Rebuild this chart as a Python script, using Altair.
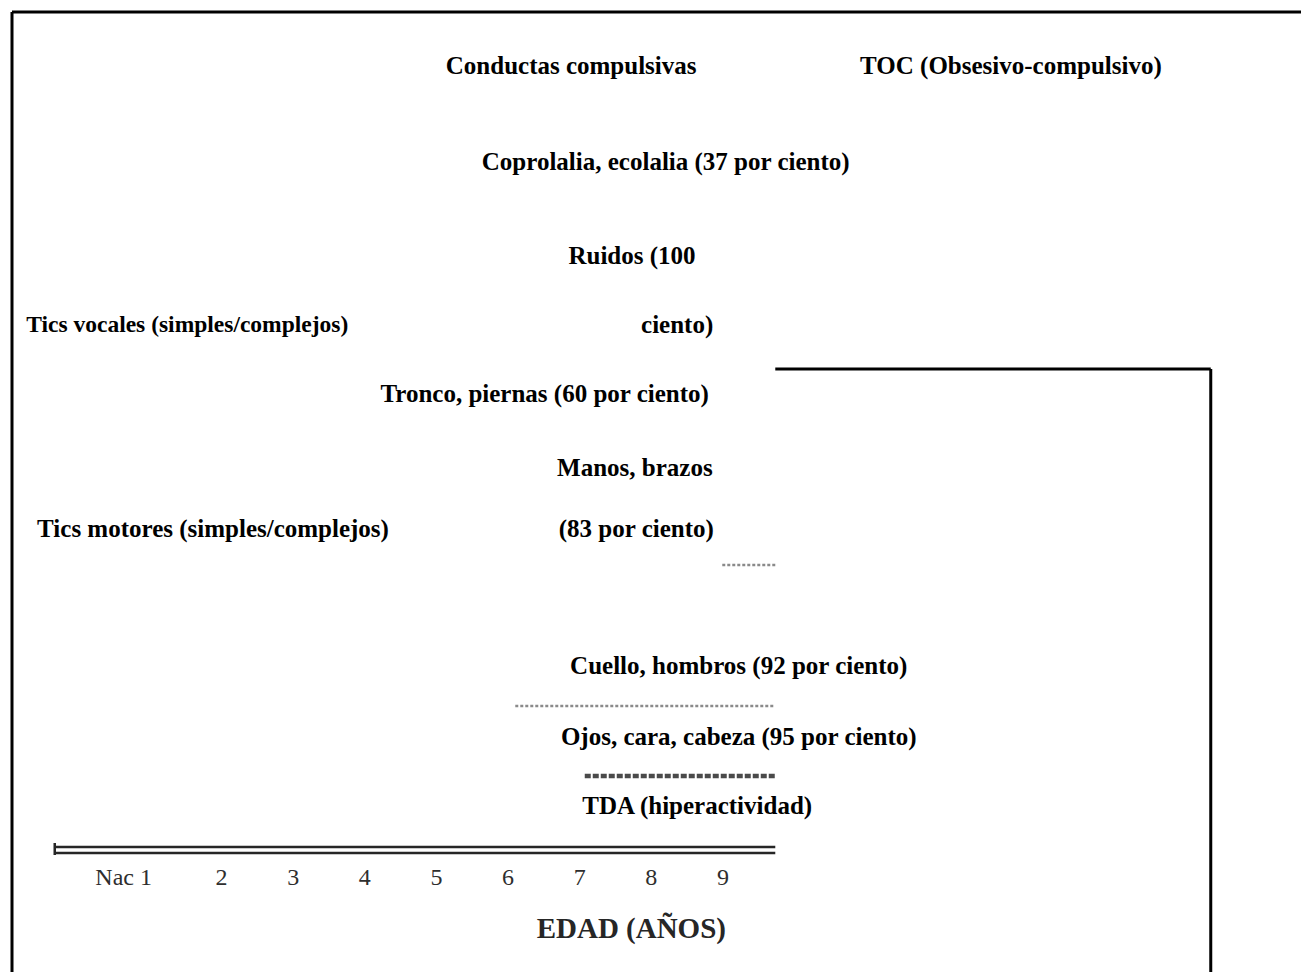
import altair as alt
import pandas as pd

# --- Etiquetas del diagrama: texto, edad (años) y nivel vertical (0 = arriba) ---
label_texts = [
    "Conductas compulsivas",
    "TOC (Obsesivo-compulsivo)",
    "Coprolalia, ecolalia (37 por ciento)",
    "Ruidos (100",
    "Tics vocales (simples/complejos)",
    "ciento)",
    "Tronco, piernas (60 por ciento)",
    "Manos, brazos",
    "Tics motores (simples/complejos)",
    "(83 por ciento)",
    "Cuello, hombros (92 por ciento)",
    "Ojos, cara, cabeza (95 por ciento)",
    "TDA (hiperactividad)",
]
label_ages = [6.88, 13.02, 8.20, 7.73, 1.52, 8.36, 6.51, 7.77, 1.88, 7.79, 9.22, 9.22, 8.64]
label_levels = [5.4, 5.4, 15.0, 24.4, 31.3, 31.3, 38.2, 45.6, 51.7, 51.7, 65.4, 72.5, 79.4]
condensed_label = "Tics vocales (simples/complejos)"

# --- Eje de edad ---
tick_ages = [1, 2, 3, 4, 5, 6, 7, 8, 9]
tick_labels = ["Nac 1", "2", "3", "4", "5", "6", "7", "8", "9"]
tick_level = 86.6
axis_title = "EDAD (AÑOS)"
axis_title_age = 7.72
axis_title_level = 91.7
axis_start_age = -0.33
axis_end_age = 9.73
axis_line_levels = [83.5, 84.1]
axis_corner_levels = [83.1, 84.3]

# --- Restos de barras de duración (escaneadas) ---
bar_names = ["Manos", "Cuello", "Ojos"]
bar_start_ages = [8.99, 6.10, 7.07]
bar_end_ages = [9.73, 9.73, 9.73]
bar_levels = [55.3, 69.4, 76.4]

# --- Recuadro interior ---
box_left_age = 9.73
box_right_age = 15.81
box_top_level = 35.7
box_bottom_level = 96.0

# --- Marco exterior (bordes superior e izquierdo) ---
x_domain = [-0.9267, 17.07]
y_domain = [0, 96]

xscale = alt.Scale(domain=x_domain, nice=False, zero=False)
yscale = alt.Scale(domain=y_domain, reverse=True, nice=False, zero=False)

labels_df = pd.DataFrame({"texto": label_texts, "edad": label_ages, "nivel": label_levels})
ticks_df = pd.DataFrame({"texto": tick_labels, "edad": tick_ages, "nivel": [tick_level] * len(tick_ages)})
title_df = pd.DataFrame({"texto": [axis_title], "edad": [axis_title_age], "nivel": [axis_title_level]})
axis_df = pd.DataFrame({"x0": [axis_start_age] * 2, "x1": [axis_end_age] * 2, "nivel": axis_line_levels})
corner_df = pd.DataFrame({"x0": [axis_start_age], "y0": [axis_corner_levels[0]], "y1": [axis_corner_levels[1]]})
bars_df = pd.DataFrame({"nombre": bar_names, "x0": bar_start_ages, "x1": bar_end_ages, "nivel": bar_levels})
hlines_df = pd.DataFrame({"x0": [box_left_age, x_domain[0]], "x1": [box_right_age, x_domain[1]],
                          "nivel": [box_top_level, y_domain[0]]})
vlines_df = pd.DataFrame({"x0": [box_right_age, x_domain[0]], "y0": [box_top_level, y_domain[0]],
                          "y1": [box_bottom_level, y_domain[1]]})

X = lambda f: alt.X(f, scale=xscale, axis=None)
Y = lambda f: alt.Y(f, scale=yscale, axis=None)

hlines = alt.Chart(hlines_df).mark_rule(color="black", strokeWidth=3).encode(
    x=X("x0:Q"), x2="x1:Q", y=Y("nivel:Q"),
)
vlines = alt.Chart(vlines_df).mark_rule(color="black", strokeWidth=3).encode(
    x=X("x0:Q"), y=Y("y0:Q"), y2="y1:Q",
)

axis_lines = alt.Chart(axis_df).mark_rule(color="#262626", strokeWidth=2.5).encode(
    x=X("x0:Q"), x2="x1:Q", y=Y("nivel:Q"),
)
axis_corner = alt.Chart(corner_df).mark_rule(color="#262626", strokeWidth=2.5).encode(
    x=X("x0:Q"), y=Y("y0:Q"), y2="y1:Q",
)

bar_light = alt.Chart(bars_df).transform_filter(alt.datum.nombre != "Ojos").mark_rule(
    color="#8a8a8a", strokeWidth=2.5, strokeDash=[3, 2]
).encode(x=X("x0:Q"), x2="x1:Q", y=Y("nivel:Q"))
bar_dark = alt.Chart(bars_df).transform_filter(alt.datum.nombre == "Ojos").mark_rule(
    color="#4a4a4a", strokeWidth=4.5, strokeDash=[6, 2]
).encode(x=X("x0:Q"), x2="x1:Q", y=Y("nivel:Q"))

labels = alt.Chart(labels_df).transform_filter(alt.datum.texto != condensed_label).mark_text(
    font="Liberation Serif", fontWeight="bold", fontSize=25, color="black",
    align="center", baseline="middle"
).encode(x=X("edad:Q"), y=Y("nivel:Q"), text="texto:N")
labels_condensed = alt.Chart(labels_df).transform_filter(alt.datum.texto == condensed_label).mark_text(
    font="Liberation Serif", fontWeight="bold", fontSize=23.5, color="black",
    align="center", baseline="middle"
).encode(x=X("edad:Q"), y=Y("nivel:Q"), text="texto:N")

tick_first = alt.Chart(ticks_df).transform_filter(alt.datum.edad == 1).mark_text(
    font="Liberation Serif", fontSize=24, color="#2e2e2e", align="right", baseline="middle", dx=2
).encode(x=X("edad:Q"), y=Y("nivel:Q"), text="texto:N")
tick_rest = alt.Chart(ticks_df).transform_filter(alt.datum.edad > 1).mark_text(
    font="Liberation Serif", fontSize=24, color="#2e2e2e", align="center", baseline="middle"
).encode(x=X("edad:Q"), y=Y("nivel:Q"), text="texto:N")
title = alt.Chart(title_df).mark_text(
    font="Liberation Serif", fontWeight="bold", fontSize=29, color="#262626",
    align="center", baseline="middle"
).encode(x=X("edad:Q"), y=Y("nivel:Q"), text="texto:N")

chart = alt.layer(
    hlines, vlines, axis_lines, axis_corner, bar_light, bar_dark,
    labels, labels_condensed, tick_first, tick_rest, title
).properties(
    width=1289, height=960,
    padding={"left": 4, "top": 4, "right": 0, "bottom": 0},
    autosize=alt.AutoSizeParams(type="none"),
    background="white",
).configure_view(stroke=None)

chart.save("out.html", embed_options={"renderer": "svg", "actions": False})
